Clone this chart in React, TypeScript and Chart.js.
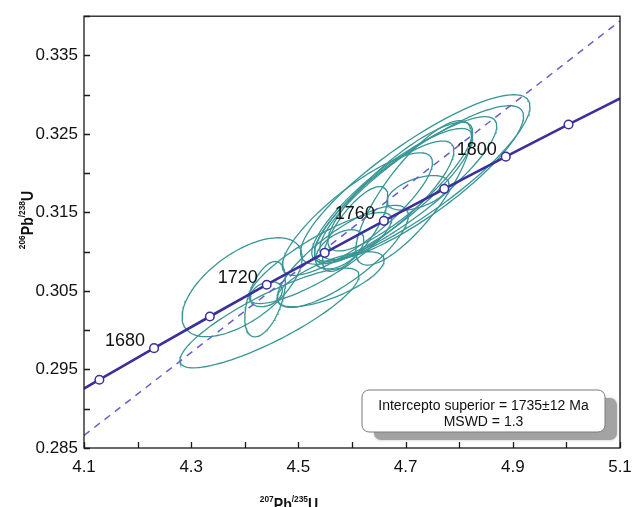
import React, { useEffect, useRef } from "react";
import { Chart, registerables } from "chart.js";

Chart.register(...registerables);

// Concordia points (Ma), 207Pb/235U and 206Pb/238U
const concAges = [1660, 1680, 1700, 1720, 1740, 1760, 1780, 1800, 1820];
const concX = [4.1287, 4.2307, 4.3348, 4.4409, 4.5491, 4.6595, 4.7721, 4.8869, 5.004];
const concY = [0.2937, 0.29772, 0.30175, 0.3058, 0.30986, 0.31393, 0.31801, 0.32211, 0.32621];
// Concordia ends at the plot edges
const concEdgeX = [4.1, 5.1];
const concEdgeY = [0.29257, 0.32952];
const labelledAges = [1680, 1720, 1760, 1800];

// Discordia (dashed) end points
const discX = [4.1, 5.1];
const discY = [0.2866, 0.3394];

// Error ellipses: centre, half extents and correlation
const ellCx = [4.446, 4.395, 4.438, 4.44, 4.583, 4.541, 4.577, 4.606, 4.56, 4.718, 4.73, 4.7, 4.69, 4.675, 4.715, 4.723, 4.61, 4.66];
const ellCy = [0.30156, 0.30548, 0.30396, 0.3046, 0.3094, 0.3092, 0.3103, 0.3129, 0.3065, 0.3192, 0.3188, 0.318, 0.3183, 0.3172, 0.3175, 0.3175, 0.3148, 0.3163];
const ellSx = [0.167, 0.112, 0.038, 0.03, 0.122, 0.133, 0.045, 0.061, 0.1, 0.214, 0.19, 0.17, 0.135, 0.15, 0.108, 0.058, 0.14, 0.13];
const ellSy = [0.00635, 0.0063, 0.0048, 0.0016, 0.0065, 0.0058, 0.0025, 0.0054, 0.0035, 0.0108, 0.0098, 0.0092, 0.0082, 0.0085, 0.0092, 0.0022, 0.0078, 0.0078];
const ellRho = [0.85, 0.6, 0.5, 0.3, 0.8, 0.85, 0.5, 0.75, 0.7, 0.86, 0.86, 0.87, 0.85, 0.86, 0.8, 0.5, 0.84, 0.84];

const xTitle = { sup1: "207", main1: "Pb", sup2: "/235", main2: "U" };
const yTitle = { sup1: "206", main1: "Pb", sup2: "/238", main2: "U" };
const boxLines = ["Intercepto superior = 1735±12 Ma", "MSWD = 1.3"];

const FONT = "'Liberation Sans', Arial, sans-serif";

function ellipsePoints(i: number) {
  const pts: { x: number; y: number }[] = [];
  const n = 140;
  const r = ellRho[i];
  const q = Math.sqrt(1 - r * r);
  for (let k = 0; k <= n; k++) {
    const t = (k / n) * Math.PI * 2;
    pts.push({
      x: ellCx[i] + ellSx[i] * Math.cos(t),
      y: ellCy[i] + ellSy[i] * (r * Math.cos(t) + q * Math.sin(t)),
    });
  }
  return pts;
}

function drawIsoTitle(ctx: CanvasRenderingContext2D, t: any, cx: number, baseline: number) {
  const mainF = `bold 16px ${FONT}`;
  const supF = `bold 9.5px ${FONT}`;
  const sx = 0.88;
  const parts = [
    { s: t.sup1, f: supF, dy: -8 },
    { s: t.main1, f: mainF, dy: 0 },
    { s: t.sup2, f: supF, dy: -8 },
    { s: t.main2, f: mainF, dy: 0 },
  ];
  let total = 0;
  for (const p of parts) {
    ctx.font = p.f;
    total += ctx.measureText(p.s).width;
  }
  ctx.save();
  ctx.translate(cx - (total * sx) / 2, baseline);
  ctx.scale(sx, 1);
  let x = 0;
  ctx.textAlign = "left";
  ctx.textBaseline = "alphabetic";
  for (const p of parts) {
    ctx.font = p.f;
    ctx.fillText(p.s, x, p.dy);
    x += ctx.measureText(p.s).width;
  }
  ctx.restore();
}

const decorPlugin = {
  id: "decor",
  afterDatasetsDraw(chart: any) {
    const { ctx, chartArea: a, scales } = chart;
    const xs = scales.x;
    const ys = scales.y;
    ctx.save();
    // frame
    ctx.strokeStyle = "#1a1a1a";
    ctx.lineWidth = 1.3;
    ctx.strokeRect(a.left, a.top, a.right - a.left, a.bottom - a.top);
    // inward ticks
    ctx.beginPath();
    xs.ticks.forEach((tk: any) => {
      const px = Math.round(xs.getPixelForValue(tk.value)) + 0.5;
      ctx.moveTo(px, a.bottom);
      ctx.lineTo(px, a.bottom - 6);
    });
    ys.ticks.forEach((tk: any) => {
      const py = Math.round(ys.getPixelForValue(tk.value)) + 0.5;
      ctx.moveTo(a.left, py);
      ctx.lineTo(a.left + 6, py);
    });
    ctx.stroke();

    // concordia age markers
    for (let i = 0; i < concAges.length; i++) {
      const px = xs.getPixelForValue(concX[i]);
      const py = ys.getPixelForValue(concY[i]);
      ctx.beginPath();
      ctx.arc(px, py, 4.3, 0, Math.PI * 2);
      ctx.fillStyle = "#ffffff";
      ctx.fill();
      ctx.lineWidth = 1.5;
      ctx.strokeStyle = "#3b2f9c";
      ctx.stroke();
    }
    // age labels
    ctx.fillStyle = "#111";
    ctx.font = `18px ${FONT}`;
    ctx.textAlign = "right";
    ctx.textBaseline = "middle";
    labelledAges.forEach((age) => {
      const i = concAges.indexOf(age);
      const px = xs.getPixelForValue(concX[i]);
      const py = ys.getPixelForValue(concY[i]);
      ctx.fillText(String(age), px - 9, py - 7);
    });

    // result box with shadow
    const bx = a.right - 258;
    const by = a.bottom - 58;
    const bw = 243;
    const bh = 42;
    const rr = 7;
    const rounded = (x: number, y: number) => {
      ctx.beginPath();
      ctx.roundRect(x, y, bw, bh, rr);
    };
    ctx.save();
    ctx.shadowColor = "rgba(0,0,0,0.25)";
    ctx.shadowBlur = 3;
    rounded(bx + 12, by + 8);
    ctx.fillStyle = "#a3a3a3";
    ctx.fill();
    ctx.restore();
    rounded(bx, by);
    ctx.fillStyle = "#ffffff";
    ctx.fill();
    ctx.lineWidth = 1;
    ctx.strokeStyle = "#7a7a7a";
    ctx.stroke();
    ctx.fillStyle = "#111";
    ctx.font = `14px ${FONT}`;
    ctx.textAlign = "center";
    ctx.textBaseline = "middle";
    ctx.fillText(boxLines[0], bx + bw / 2, by + 16);
    ctx.fillText(boxLines[1], bx + bw / 2, by + 32);

    // axis titles
    ctx.fillStyle = "#111";
    drawIsoTitle(ctx, xTitle, 289, 510);
    ctx.save();
    ctx.translate(33, 220);
    ctx.rotate(-Math.PI / 2);
    drawIsoTitle(ctx, yTitle, 0, 0);
    ctx.restore();

    ctx.restore();
  },
};

export default function App() {
  const ref = useRef<HTMLCanvasElement | null>(null);
  useEffect(() => {
    if (!ref.current) return;
    const ellipseSets = ellCx.map((_, i) => ({
      data: ellipsePoints(i),
      showLine: true,
      borderColor: "#3a9595",
      borderWidth: 1.3,
      pointRadius: 0,
      fill: false,
      tension: 0,
    }));
    const concData = [
      { x: concEdgeX[0], y: concEdgeY[0] },
      ...concX.map((x, i) => ({ x, y: concY[i] })),
      { x: concEdgeX[1], y: concEdgeY[1] },
    ];
    const chart = new Chart(ref.current, {
      type: "scatter",
      data: {
        datasets: [
          {
            data: concData,
            showLine: true,
            borderColor: "#3b2f9c",
            borderWidth: 2.6,
            pointRadius: 0,
            cubicInterpolationMode: "monotone",
          } as any,
          {
            data: discX.map((x, i) => ({ x, y: discY[i] })),
            showLine: true,
            borderColor: "#6a5ec8",
            borderWidth: 1.5,
            borderDash: [7, 6],
            pointRadius: 0,
          } as any,
          ...ellipseSets,
        ],
      },
      options: {
        responsive: false,
        animation: false,
        devicePixelRatio: 1,
        layout: { padding: { left: 0, top: 8, right: 21, bottom: 0 } },
        plugins: { legend: { display: false }, tooltip: { enabled: false } },
        scales: {
          x: {
            type: "linear",
            min: 4.1,
            max: 5.1,
            afterFit: (s: any) => {
              s.height = 59;
            },
            grid: { display: false, drawTicks: false },
            border: { display: false },
            ticks: {
              stepSize: 0.1,
              autoSkip: false,
              maxRotation: 0,
              padding: 9,
              color: "#111",
              font: { family: FONT, size: 17 },
              callback: (v: any, idx: number) => (idx % 2 === 0 ? Number(v).toFixed(1) : ""),
            },
          },
          y: {
            type: "linear",
            min: 0.285,
            max: 0.34,
            afterFit: (s: any) => {
              s.width = 84;
            },
            grid: { display: false, drawTicks: false },
            border: { display: false },
            ticks: {
              stepSize: 0.005,
              autoSkip: false,
              padding: 6,
              color: "#111",
              font: { family: FONT, size: 17 },
              callback: (v: any, idx: number) => (idx % 2 === 0 ? Number(v).toFixed(3) : ""),
            },
          },
        },
      } as any,
      plugins: [decorPlugin],
    });
    return () => chart.destroy();
  }, []);
  return (
    <div style={{ position: "absolute", left: 0, top: 0, width: 641, height: 507, background: "#fff" }}>
      <canvas ref={ref} width={641} height={507} style={{ display: "block" }} />
    </div>
  );
}
